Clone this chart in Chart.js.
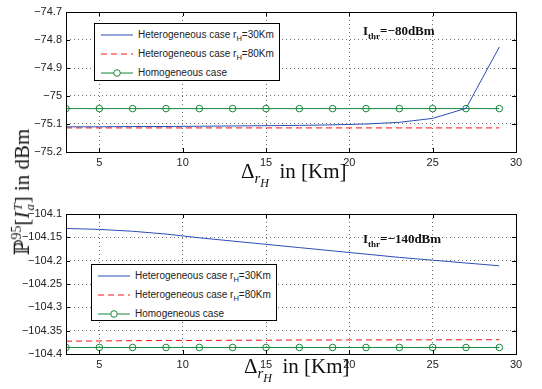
<!DOCTYPE html>
<html>
<head>
<meta charset="utf-8">
<script src="https://cdn.jsdelivr.net/npm/chart.js@4.4.0/dist/chart.umd.min.js"></script>
<style>
    body { margin: 0; background: #fff; width: 542px; height: 389px; position: relative; overflow: hidden; font-family: "Liberation Sans", Arial, sans-serif; }
    .pane { position: absolute; left: 0; }
    .leg { position: absolute; border: 1px solid #000; background: #fff; box-sizing: border-box; font-size: 10px; color: #222; padding-top: 1px; }
    .leg .row { height: 19px; line-height: 19px; white-space: nowrap; }
    .leg svg { vertical-align: middle; margin: 0 4px 0 5px; }
    .leg sub { font-size: 7.5px; vertical-align: -3px; line-height: 0; }
    .ann { position: absolute; font-family: "Liberation Serif", "Times New Roman", serif; font-weight: bold; font-size: 13px; color: #111; white-space: nowrap; }
    .ann sub { font-size: 9px; vertical-align: -4px; line-height: 0; }
    .xt { position: absolute; font-family: "Liberation Serif", "DejaVu Serif", serif; font-size: 21px; line-height: 24px; color: #111; white-space: nowrap; }
    .xt sub { font-size: 15px; vertical-align: -5px; line-height: 0; }
    .xt sub sub { font-size: 12px; vertical-align: -4px; }
    #ylab { position: absolute; left: 22px; top: 192px; transform: translate(-50%, -50%) rotate(-90deg); font-family: "Liberation Serif", "DejaVu Serif", serif; font-size: 21px; line-height: 28px; color: #111; white-space: nowrap; }
    #ylab .sup { font-size: 14px; vertical-align: 8px; line-height: 0; }
    #ylab .stk { display: inline-block; vertical-align: middle; line-height: 12px; font-size: 13px; text-align: left; margin-left: 1px; }
</style>
</head>
<body>

<div class="pane" style="top:0"><canvas id="chartTop" width="542" height="190"></canvas></div>
<div class="pane" style="top:190px"><canvas id="chartBottom" width="542" height="199"></canvas></div>

<!-- legend tren -->
<div class="leg" style="left:94px;top:23px;width:186px;height:58px">
    <div class="row"><svg width="34" height="8"><line x1="1" y1="4" x2="33" y2="4" stroke="#2a4fb5" stroke-width="1"/></svg>Heterogeneous case r<sub>H</sub>=30Km</div>
    <div class="row"><svg width="34" height="8"><line x1="1" y1="4" x2="33" y2="4" stroke="#ff1010" stroke-width="1" stroke-dasharray="6,4"/></svg>Heterogeneous case r<sub>H</sub>=80Km</div>
    <div class="row"><svg width="34" height="8"><line x1="1" y1="4" x2="33" y2="4" stroke="#16873a" stroke-width="1"/><circle cx="17" cy="4" r="3.3" fill="#fff" stroke="#16873a"/></svg>Homogeneous case</div>
</div>

<!-- legend duoi -->
<div class="leg" style="left:91px;top:264px;width:186px;height:57px">
    <div class="row"><svg width="34" height="8"><line x1="1" y1="4" x2="33" y2="4" stroke="#2a4fb5" stroke-width="1"/></svg>Heterogeneous case r<sub>H</sub>=30Km</div>
    <div class="row"><svg width="34" height="8"><line x1="1" y1="4" x2="33" y2="4" stroke="#ff1010" stroke-width="1" stroke-dasharray="6,4"/></svg>Heterogeneous case r<sub>H</sub>=80Km</div>
    <div class="row"><svg width="34" height="8"><line x1="1" y1="4" x2="33" y2="4" stroke="#16873a" stroke-width="1"/><circle cx="17" cy="4" r="3.3" fill="#fff" stroke="#16873a"/></svg>Homogeneous case</div>
</div>

<div class="ann" style="left:363px;top:23px">I<sub>thr</sub>=−80dBm</div>
<div class="ann" style="left:363px;top:231px">I<sub>thr</sub>=−140dBm</div>

<div class="xt" style="left:241px;top:159px">Δ<sub><i>r</i><sub><i>H</i></sub></sub>&nbsp; in [Km]</div>
<div class="xt" style="left:244px;top:354px">Δ<sub><i>r</i><sub><i>H</i></sub></sub>&nbsp; in [Km]</div>

<div id="ylab">ℙ<span class="sup">95</span>[<i>I</i><span class="stk"><i>T</i><br><i>a</i></span>] in dBm</div>

<script>
    // du lieu doc tu hinh
    const xValues = [3, 5, 7, 9, 11, 13, 15, 17, 19, 21, 23, 25, 27, 29];
    const xTicks = [5, 10, 15, 20, 25, 30];

    // I_thr = -80dBm
    const hetero30Top = [-75.110, -75.110, -75.109, -75.109, -75.108, -75.107, -75.106, -75.105, -75.103, -75.100, -75.094, -75.080, -75.044, -74.825];
    const hetero80Top = [-75.114, -75.114, -75.114, -75.114, -75.114, -75.114, -75.114, -75.114, -75.114, -75.114, -75.114, -75.114, -75.114, -75.114];
    const homoTop = [-75.045, -75.045, -75.045, -75.045, -75.045, -75.045, -75.045, -75.045, -75.045, -75.045, -75.045, -75.045, -75.045, -75.045];

    // I_thr = -140dBm
    const hetero30Bottom = [-104.131, -104.133, -104.137, -104.143, -104.151, -104.158, -104.165, -104.172, -104.179, -104.186, -104.193, -104.199, -104.205, -104.211];
    const hetero80Bottom = [-104.3725, -104.372, -104.3715, -104.371, -104.371, -104.3705, -104.3705, -104.370, -104.370, -104.3698, -104.3697, -104.3696, -104.3695, -104.3694];
    const homoBottom = [-104.386, -104.386, -104.386, -104.386, -104.386, -104.386, -104.386, -104.386, -104.386, -104.386, -104.386, -104.386, -104.386, -104.386];

    const BLUE = "#2a4fb5", RED = "#ff1010", GREEN = "#16873a";

    function toPoints(ys) {
        return xValues.map((x, i) => ({ x: x, y: ys[i] }));
    }

    // dinh dang so voi dau tru
    function fmtTick(v) {
        return String(+v.toFixed(2)).replace("-", "\u2212");
    }

    // khung den + vach chia huong vao trong (kieu matlab)
    const framePlugin = {
        id: "frame",
        afterDatasetsDraw(chart) {
            const ctx = chart.ctx, a = chart.chartArea;
            const tl = 4;
            ctx.save();
            ctx.strokeStyle = "#000";
            ctx.lineWidth = 1;
            ctx.beginPath();
            chart.scales.x.ticks.forEach(t => {
                const px = Math.round(chart.scales.x.getPixelForValue(t.value)) + 0.5;
                ctx.moveTo(px, a.bottom); ctx.lineTo(px, a.bottom - tl);
                ctx.moveTo(px, a.top); ctx.lineTo(px, a.top + tl);
            });
            chart.scales.y.ticks.forEach(t => {
                const py = Math.round(chart.scales.y.getPixelForValue(t.value)) + 0.5;
                ctx.moveTo(a.left, py); ctx.lineTo(a.left + tl, py);
                ctx.moveTo(a.right, py); ctx.lineTo(a.right - tl, py);
            });
            ctx.stroke();
            ctx.strokeRect(Math.round(a.left) + 0.5, Math.round(a.top) + 0.5, Math.round(a.right - a.left), Math.round(a.bottom - a.top));
            ctx.restore();
        }
    };

    function makeDatasets(h30, h80, homo) {
        return [{
            label: "Heterogeneous case rH=30Km",
            data: toPoints(h30),
            borderColor: BLUE,
            borderWidth: 1,
            pointRadius: 0,
            tension: 0
        }, {
            label: "Heterogeneous case rH=80Km",
            data: toPoints(h80),
            borderColor: RED,
            borderWidth: 1,
            borderDash: [6, 4],
            pointRadius: 0,
            tension: 0
        }, {
            label: "Homogeneous case",
            data: toPoints(homo),
            borderColor: GREEN,
            borderWidth: 1,
            pointRadius: 3.3,
            pointStyle: "circle",
            pointBorderColor: GREEN,
            pointBackgroundColor: "rgba(0,0,0,0)",
            pointBorderWidth: 1,
            tension: 0
        }];
    }

    function makeOptions(yMin, yMax, yStep, padTop, xAxisH) {
        return {
            responsive: false,
            animation: false,
            layout: { padding: { top: padTop, right: 26, left: 0, bottom: 0 } },
            plugins: { legend: { display: false }, tooltip: { enabled: false } },
            scales: {
                x: {
                    type: "linear",
                    min: 3,
                    max: 30,
                    afterFit: s => { s.height = xAxisH; },
                    afterBuildTicks: s => { s.ticks = xTicks.map(v => ({ value: v })); },
                    grid: { color: "rgba(0,0,0,0.55)", lineWidth: 1, drawTicks: false },
                    border: { display: false, dash: [1, 3] },
                    ticks: { padding: 4, color: "#222", font: { family: "Liberation Sans", size: 11 }, maxRotation: 0, autoSkip: false }
                },
                y: {
                    min: yMin,
                    max: yMax,
                    afterFit: s => { s.width = 66; },
                    grid: { color: "rgba(0,0,0,0.55)", lineWidth: 1, drawTicks: false },
                    border: { display: false, dash: [1, 3] },
                    ticks: { stepSize: yStep, padding: 4, color: "#222", font: { family: "Liberation Sans", size: 11 }, callback: fmtTick }
                }
            }
        };
    }

    new Chart(document.getElementById("chartTop").getContext("2d"), {
        type: "line",
        data: { datasets: makeDatasets(hetero30Top, hetero80Top, homoTop) },
        options: makeOptions(-75.2, -74.7, 0.1, 12, 38),
        plugins: [framePlugin]
    });

    new Chart(document.getElementById("chartBottom").getContext("2d"), {
        type: "line",
        data: { datasets: makeDatasets(hetero30Bottom, hetero80Bottom, homoBottom) },
        options: makeOptions(-104.4, -104.1, 0.05, 24, 35),
        plugins: [framePlugin]
    });
</script>
</body>
</html>
